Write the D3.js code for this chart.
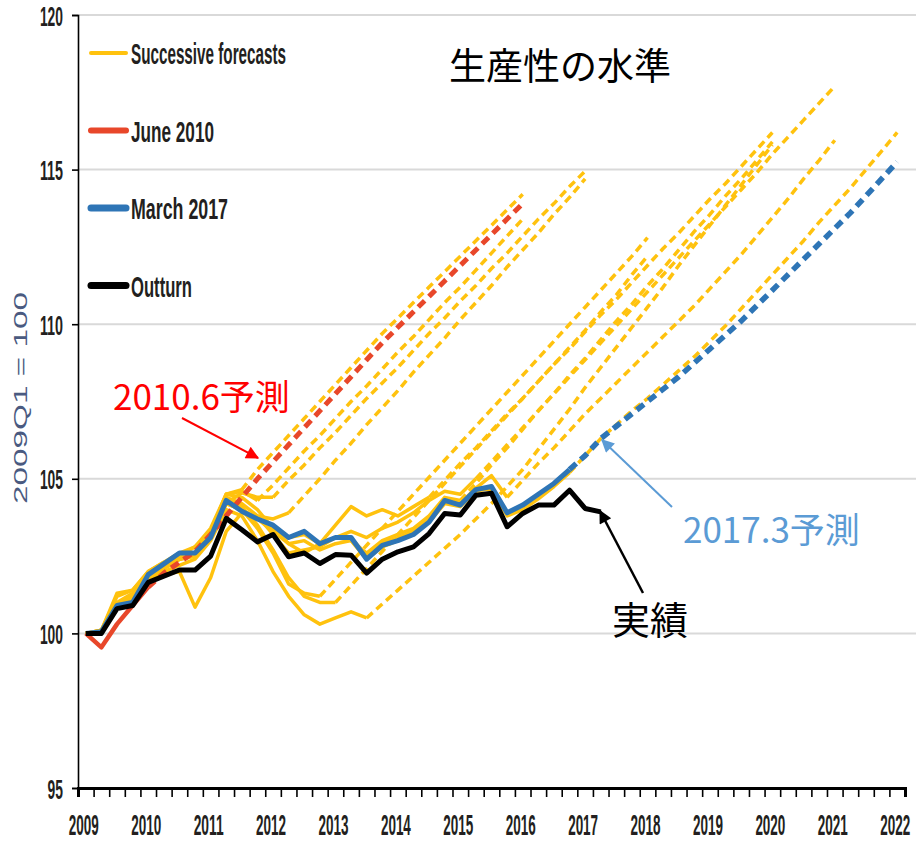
<!DOCTYPE html>
<html>
<head>
<meta charset="utf-8">
<script src="https://cdn.jsdelivr.net/npm/d3@7"></script>
<style>
  body { margin: 0; background: #fff; }
  svg { display: block; }
</style>
</head>
<body>
<div id="chart"></div>
<script>
// Productivity level, 2009Q1 = 100 (quarter index 0 = 2009Q1)
const yearLabels = ["2009", "2010", "2011", "2012", "2013", "2014", "2015", "2016", "2017", "2018", "2019", "2020", "2021", "2022"];
const yTicks = [95, 100, 105, 110, 115, 120];
const quarterCount = 53;

const outturn = [100.0, 100.0, 100.8, 100.9, 101.65, 101.85, 102.05, 102.05, 102.5, 103.72, 103.35, 102.96, 103.2, 102.48, 102.6, 102.26, 102.55, 102.53, 101.95, 102.4, 102.64, 102.8, 103.23, 103.88, 103.83, 104.47, 104.53, 103.45, 103.88, 104.15, 104.15, 104.63, 104.04, 103.93];

const june2010Hist = [100.0, 99.55, 100.3, 100.9, 101.5];
const june2010Proj = [101.5, 101.95, 102.3, 102.65, 103.2, 103.8, 104.4, 105.0, 105.55, 106.1, 106.65, 107.2, 107.75, 108.3, 108.85, 109.4, 109.9, 110.4, 110.9, 111.4, 111.9, 112.4, 112.9, 113.4, 113.9];

const march2017Hist = [100.0, 100.05, 100.9, 101.0, 101.9, 102.25, 102.6, 102.6, 103.1, 104.3, 103.95, 103.7, 103.5, 103.1, 103.3, 102.9, 103.1, 103.1, 102.4, 102.85, 103.0, 103.2, 103.6, 104.3, 104.15, 104.65, 104.75, 103.9, 104.15, 104.5, 104.85, 105.3];
const march2017Proj = [105.3, 105.75, 106.3, 106.7, 107.1, 107.5, 107.9, 108.3, 108.75, 109.2, 109.65, 110.1, 110.6, 111.1, 111.6, 112.1, 112.6, 113.1, 113.6, 114.15, 114.7, 115.25];

// Successive forecasts: vintage history (solid) then projection (dashed)
const fcA_hist = [100.0, 100.1, 101.3, 101.4, 102.0, 102.3, 102.5, 102.8, 103.4, 104.5, 104.65];
const fcA_proj = [104.65, 105.3, 105.85, 106.4, 106.95, 107.5, 108.05, 108.6, 109.15, 109.7, 110.2, 110.7, 111.2, 111.7, 112.2, 112.7, 113.2, 113.7, 114.2];
const fcB_hist = [100.0, 100.0, 100.9, 101.1, 101.8, 102.2, 102.5, 102.6, 103.3, 104.5, 104.6, 104.3];
const fcB_proj = [104.3, 104.8, 105.35, 105.9, 106.4, 106.95, 107.5, 108.0, 108.55, 109.1, 109.6, 110.15, 110.7, 111.2, 111.75, 112.3, 112.85, 113.4];
const fcC_hist = [100.0, 100.1, 100.9, 101.2, 101.8, 102.1, 102.4, 102.6, 103.1, 104.2, 104.55, 104.4, 104.4];
const fcC_proj = [104.4, 104.95, 105.45, 106.0, 106.5, 107.05, 107.6, 108.1, 108.6, 109.15, 109.7, 110.2, 110.75, 111.25, 111.8, 112.3, 112.85, 113.4, 113.9, 114.45, 114.95];
const fcD_hist = [100.0, 100.0, 100.8, 101.0, 101.7, 101.9, 102.0, 100.85, 101.8, 103.3, 103.9, 103.8, 103.7, 103.9];
const fcD_proj = [103.9, 104.45, 105.0, 105.6, 106.15, 106.75, 107.3, 107.85, 108.45, 109.0, 109.55, 110.15, 110.7, 111.25, 111.85, 112.4, 112.95, 113.55, 114.1, 114.7];
const fcE_hist = [100.0, 100.0, 100.8, 101.1, 101.7, 102.0, 102.2, 102.4, 103.0, 104.0, 103.8, 103.0, 102.0, 101.2, 100.6, 100.3, 100.5, 100.7, 100.5];
const fcE_proj = [100.5, 100.95, 101.4, 101.85, 102.3, 102.75, 103.2, 103.7, 104.2, 104.75, 105.3, 105.95, 106.6, 107.25, 107.95, 108.6, 109.25, 109.9, 110.55, 111.2, 111.9, 112.55, 113.2, 113.85, 114.5, 115.15, 115.8];
const fcF_hist = [100.0, 100.1, 101.0, 101.3, 101.9, 102.2, 102.4, 102.6, 103.2, 104.2, 104.0, 103.4, 102.6, 101.6, 101.3, 101.2];
const fcF_proj = [101.2, 101.75, 102.3, 102.85, 103.4, 103.95, 104.5, 105.05, 105.6, 106.15, 106.7, 107.25, 107.8, 108.35, 108.9, 109.45, 110.0, 110.55, 111.1, 111.65, 112.2, 112.8];
const fcG_hist = [100.0, 100.0, 100.9, 101.1, 101.8, 102.1, 102.4, 102.5, 103.1, 104.3, 104.1, 103.5, 102.7, 101.8, 101.2, 101.0, 101.0];
const fcG_proj = [101.0, 101.55, 102.1, 102.65, 103.2, 103.75, 104.3, 104.85, 105.4, 105.95, 106.5, 107.05, 107.6, 108.15, 108.7, 109.25, 109.8, 110.4, 110.95, 111.6, 112.2];
const fcH_hist = [100.0, 100.1, 101.2, 101.4, 102.0, 102.3, 102.6, 102.8, 103.3, 104.5, 104.4, 104.0, 103.4, 102.9, 102.6, 102.9, 103.5, 104.1, 103.8, 104.0, 103.8, 104.1, 104.4];
const fcH_proj = [104.4, 104.95, 105.5, 106.0, 106.55, 107.1, 107.6, 108.15, 108.7, 109.2, 109.75, 110.3, 110.8, 111.35, 111.9, 112.45, 112.95, 113.5, 114.05, 114.55, 115.1, 115.65, 116.2];
const fcI_hist = [100.0, 100.0, 100.9, 101.2, 101.9, 102.2, 102.5, 102.6, 103.2, 104.4, 104.2, 103.8, 103.2, 102.6, 102.7, 102.8, 103.1, 103.3, 103.1, 103.4, 103.6, 103.9, 104.3, 104.6, 104.5, 105.0];
const fcI_proj = [105.0, 105.55, 106.1, 106.65, 107.2, 107.75, 108.3, 108.85, 109.4, 109.95, 110.5, 111.05, 111.6, 112.15, 112.7, 113.25, 113.8, 114.35, 114.9, 115.5, 116.05, 116.6, 117.15, 117.7];
const fcJ_hist = [100.0, 100.0, 100.9, 101.1, 101.8, 102.1, 102.4, 102.5, 103.1, 104.2, 104.0, 103.7, 103.3, 102.9, 103.0, 102.7, 102.9, 103.0, 102.6, 103.0, 103.2, 103.4, 103.8, 104.4, 104.3];
const fcJ_proj = [104.3, 104.85, 105.45, 106.0, 106.6, 107.2, 107.75, 108.35, 108.9, 109.5, 110.1, 110.65, 111.25, 111.8, 112.4, 113.0, 113.55, 114.15, 114.7, 115.3, 115.9];
const fcK_hist = [100.0, 100.0, 100.9, 101.0, 101.9, 102.2, 102.6, 102.6, 103.1, 104.3, 104.0, 103.7, 103.5, 103.1, 103.3, 102.9, 103.1, 103.1, 102.5, 102.9, 103.1, 103.3, 103.7, 104.3, 104.2, 104.7, 105.1, 104.4];
const fcK_proj = [104.4, 104.95, 105.5, 106.0, 106.55, 107.1, 107.6, 108.1, 108.6, 109.1, 109.6, 110.1, 110.6, 111.15, 111.7, 112.25, 112.85, 113.45, 114.05, 114.7, 115.3, 115.95];
const fcL_hist = [100.0, 100.0, 100.9, 101.0, 101.8, 102.2, 102.6, 102.6, 103.1, 104.3, 104.0, 103.7, 103.5, 103.1, 103.2, 102.9, 103.1, 103.0, 102.4, 102.8, 103.0, 103.2, 103.6, 104.2, 104.1, 104.6, 104.7, 103.8, 104.0, 104.35, 104.75, 105.2];
const fcL_proj = [105.2, 105.75, 106.3, 106.75, 107.2, 107.6, 108.05, 108.5, 108.95, 109.45, 109.95, 110.5, 111.05, 111.6, 112.15, 112.7, 113.3, 113.85, 114.4, 115.0, 115.6, 116.2];

const successive = [
  [fcA_hist, fcA_proj], [fcB_hist, fcB_proj], [fcC_hist, fcC_proj], [fcD_hist, fcD_proj],
  [fcE_hist, fcE_proj], [fcF_hist, fcF_proj], [fcG_hist, fcG_proj], [fcH_hist, fcH_proj],
  [fcI_hist, fcI_proj], [fcJ_hist, fcJ_proj], [fcK_hist, fcK_proj], [fcL_hist, fcL_proj]
];

const legendItems = ["Successive forecasts", "June 2010", "March 2017", "Outturn"];

const YELLOW = "#ffc20e", RED = "#e8472a", BLUE = "#2e75b6", BLACK = "#000";

const W = 916, H = 843;
const margin = { top: 15, right: 11, bottom: 55, left: 78 };

const svg = d3.select("#chart").append("svg")
  .attr("width", W)
  .attr("height", H);

svg.append("rect").attr("width", W).attr("height", H).attr("fill", "#fff");

const xScale = d3.scaleLinear()
  .domain([2009, 2009 + quarterCount / 4])
  .range([margin.left, W - margin.right]);
const yScale = d3.scaleLinear()
  .domain([95, 120])
  .range([H - margin.bottom, margin.top]);

// quarter index -> mid-quarter date
const qx = q => xScale(2009 + (q + 0.5) / 4);

// condensed look: fixed width per label
function condense(sel, widthOf) {
  sel.attr("textLength", widthOf).attr("lengthAdjust", "spacingAndGlyphs");
}

const labelFont = "'Liberation Sans', Arial, sans-serif";
const cjkFont = "'Noto Sans CJK JP', 'Noto Sans CJK SC', sans-serif";

// gridlines
svg.append("g")
  .selectAll("line")
  .data(yTicks.filter(t => t > 95))
  .enter().append("line")
  .attr("x1", margin.left)
  .attr("x2", W)
  .attr("y1", d => yScale(d))
  .attr("y2", d => yScale(d))
  .attr("stroke", "#d9d9d9")
  .attr("stroke-width", 2);

// left axis
const yAxis = svg.append("g")
  .attr("transform", "translate(" + margin.left + ",0)")
  .call(d3.axisLeft(yScale).tickValues(yTicks).tickSize(6).tickPadding(9));
yAxis.select(".domain").attr("stroke", "#000").attr("stroke-width", 1.6);
yAxis.selectAll(".tick line").attr("stroke", "#000").attr("stroke-width", 1.6);
yAxis.selectAll(".tick text")
  .attr("font-family", labelFont)
  .attr("font-size", 28)
  .attr("font-weight", "bold")
  .attr("fill", "#231f20")
  .attr("dy", "0.36em")
  .call(condense, d => String(d).length * 7.7);

// bottom axis: quarterly ticks, year labels
const quarterTicks = d3.range(0, quarterCount + 1).map(q => 2009 + q / 4);
const xAxis = svg.append("g")
  .attr("transform", "translate(0," + yScale(95) + ")")
  .call(d3.axisBottom(xScale).tickValues(quarterTicks).tickSize(9).tickFormat(""));
xAxis.select(".domain").attr("stroke", "#000").attr("stroke-width", 3);
xAxis.selectAll(".tick line").attr("stroke", "#000").attr("stroke-width", 1.6);

// year labels squeezed with a scale transform so their box stays narrow
svg.append("g")
  .selectAll("text")
  .data(yearLabels)
  .enter().append("text")
  .attr("text-anchor", "middle")
  .attr("font-family", labelFont)
  .attr("font-size", 30)
  .attr("font-weight", "bold")
  .attr("fill", "#231f20")
  .text(d => d)
  .each(function (d) {
    const sx = 30 / this.getComputedTextLength();
    d3.select(this).attr("transform",
      "translate(" + (xScale(+d + 0.125) - 2) + "," + (H - 8) + ") scale(" + sx + ",1)");
  });

// y axis title
svg.append("text")
  .attr("transform", "translate(27,398) rotate(-90)")
  .attr("text-anchor", "middle")
  .attr("font-family", labelFont)
  .attr("font-size", 18)
  .attr("fill", "#4a5a80")
  .attr("textLength", 212)
  .attr("lengthAdjust", "spacingAndGlyphs")
  .text("2009Q1 = 100");

// lines
const line = d3.line()
  .x(d => qx(d.q))
  .y(d => yScale(d.v));

const toPts = (vals, start) => vals.map((v, j) => ({ q: start + j, v: v }));

const plot = svg.append("g")
  .attr("fill", "none")
  .attr("stroke-linejoin", "round");

successive.forEach(([hist, proj]) => {
  plot.append("path")
    .attr("d", line(toPts(hist, 0)))
    .attr("stroke", YELLOW)
    .attr("stroke-width", 3.5);
});
successive.forEach(([hist, proj]) => {
  plot.append("path")
    .attr("d", line(toPts(proj, hist.length - 1)))
    .attr("stroke", YELLOW)
    .attr("stroke-width", 3.5)
    .attr("stroke-dasharray", "8,5");
});

plot.append("path")
  .attr("d", line(toPts(june2010Hist, 0)))
  .attr("stroke", RED)
  .attr("stroke-width", 4.5);
plot.append("path")
  .attr("d", line(toPts(june2010Proj, june2010Hist.length - 1)))
  .attr("stroke", RED)
  .attr("stroke-width", 5)
  .attr("stroke-dasharray", "9,6");

plot.append("path")
  .attr("d", line(toPts(march2017Hist, 0)))
  .attr("stroke", BLUE)
  .attr("stroke-width", 5);
plot.append("path")
  .attr("d", line(toPts(march2017Proj, march2017Hist.length - 1)))
  .attr("stroke", BLUE)
  .attr("stroke-width", 5.5)
  .attr("stroke-dasharray", "9,6");

plot.append("path")
  .attr("d", line(toPts(outturn, 0)))
  .attr("stroke", BLACK)
  .attr("stroke-width", 5);

// legend
const legendColors = [YELLOW, RED, BLUE, BLACK];
const legendWidths = [4, 6, 7, 7];
const legendTextWidths = [155, 83, 97, 61];
const legend = svg.append("g")
  .selectAll("g")
  .data(legendItems)
  .enter().append("g")
  .attr("transform", (d, i) => "translate(89," + (53 + i * 77.5) + ")");
legend.append("line")
  .attr("x1", 2).attr("x2", 37)
  .attr("stroke", (d, i) => legendColors[i])
  .attr("stroke-width", (d, i) => legendWidths[i])
  .attr("stroke-linecap", "round");
legend.append("text")
  .attr("x", 42)
  .attr("y", 11)
  .attr("font-family", labelFont)
  .attr("font-size", 30)
  .attr("font-weight", "bold")
  .attr("fill", "#231f20")
  .text(d => d)
  .call(condense, (d, i) => legendTextWidths[i]);

// title and annotations
svg.append("text")
  .attr("x", 449).attr("y", 80)
  .attr("font-family", cjkFont)
  .attr("font-size", 37)
  .attr("fill", "#000")
  .text("生産性の水準");

const defs = svg.append("defs");
[["arrRed", "#ff0000"], ["arrBlue", "#5b9bd5"], ["arrBlack", "#000"]].forEach(([id, c]) => {
  defs.append("marker")
    .attr("id", id)
    .attr("viewBox", "0 0 10 10")
    .attr("refX", 9).attr("refY", 5)
    .attr("markerUnits", "userSpaceOnUse")
    .attr("markerWidth", 16).attr("markerHeight", 13)
    .attr("orient", "auto")
    .append("path")
    .attr("d", "M0,0L10,5L0,10Z")
    .attr("fill", c);
});

const notes = [
  { text: "2010.6予測", color: "#ff0000", x: 113, y: 410, size: 35, from: [182, 418], to: [258, 458], marker: "arrRed", w: 2 },
  { text: "2017.3予測", color: "#5b9bd5", x: 683, y: 543, size: 35, from: [672, 507], to: [602, 440], marker: "arrBlue", w: 2 },
  { text: "実績", color: "#000", x: 612, y: 634, size: 38, from: [643, 593], to: [600, 511], marker: "arrBlack", w: 2.5 }
];

notes.forEach(n => {
  svg.append("text")
    .attr("x", n.x).attr("y", n.y)
    .attr("font-family", cjkFont)
    .attr("font-size", n.size)
    .attr("fill", n.color)
    .text(n.text);
  svg.append("line")
    .attr("x1", n.from[0]).attr("y1", n.from[1])
    .attr("x2", n.to[0]).attr("y2", n.to[1])
    .attr("stroke", n.color)
    .attr("stroke-width", n.w)
    .attr("marker-end", "url(#" + n.marker + ")");
});
</script>
</body>
</html>
